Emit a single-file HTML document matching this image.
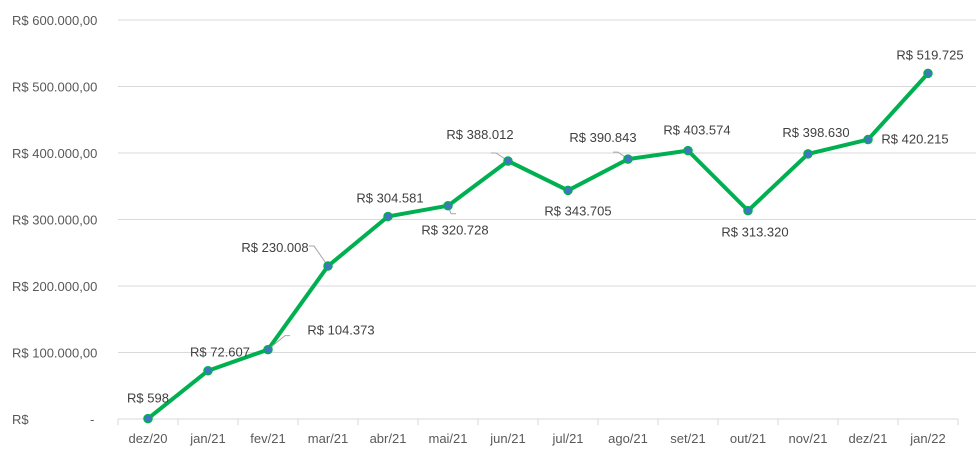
<!DOCTYPE html>
<html><head><meta charset="utf-8"><style>
body{margin:0;background:#fff;}
svg{display:block;font-family:"Liberation Sans",Arial,sans-serif;}
</style></head><body>
<svg id="chart" width="976" height="455" viewBox="0 0 976 455"></svg>
<script>
const categories=["dez/20","jan/21","fev/21","mar/21","abr/21","mai/21","jun/21","jul/21","ago/21","set/21","out/21","nov/21","dez/21","jan/22"];
const values=[598,72607,104373,230008,304581,320728,388012,343705,390843,403574,313320,398630,420215,519725];
const valueLabels=["R$ 598","R$ 72.607","R$ 104.373","R$ 230.008","R$ 304.581","R$ 320.728","R$ 388.012","R$ 343.705","R$ 390.843","R$ 403.574","R$ 313.320","R$ 398.630","R$ 420.215","R$ 519.725"];
const yTicks=[0,100000,200000,300000,400000,500000,600000];
const yTickLabels=["R$ -","R$ 100.000,00","R$ 200.000,00","R$ 300.000,00","R$ 400.000,00","R$ 500.000,00","R$ 600.000,00"];
// label placement offsets (dx,dy from point), styling only
const labelOffsets=[[0,-21],[12,-19],[73,-20],[-53,-19],[2,-19],[7,24],[-28,-27],[10,20],[-25,-22],[9,-21],[7,21],[8,-22],[47,-1],[2,-19]];
const leaders=[null,null,[17,-14],[-14,-20],null,[3,8],[-12,-8],null,[-10,-7],null,null,null,null,null];

const NS="http://www.w3.org/2000/svg";
const svg=document.getElementById('chart');
const x0=148,dx=60,yZero=419,yTop=20,yMax=600000;
const xs=i=>x0+i*dx;
const ys=v=>yZero-(v/yMax)*(yZero-yTop);
function mk(t,a,p){const e=document.createElementNS(NS,t);for(const k in a)e.setAttribute(k,a[k]);(p||svg).appendChild(e);return e;}

yTicks.forEach((t,i)=>{
  const y=ys(t);
  if(t>0){const g=mk('line',{x1:118,x2:976,y1:y,y2:y,stroke:'#d9d9d9','stroke-width':1});
  
  }
  const lbl=yTickLabels[i];
  if(t===0){
    const a=mk('text',{x:12,y:y+5,'font-size':13,fill:'#595959'});a.textContent='R$';
    
    
    const b=mk('text',{x:90,y:y+5,'font-size':13,fill:'#595959'});b.textContent='-';
    
    
  } else {
    const a=mk('text',{x:12,y:y+5,'font-size':13,fill:'#595959'});a.textContent=lbl;
    
    
  }
});
const ax=mk('line',{x1:118,x2:958,y1:yZero,y2:yZero,stroke:'#d9d9d9','stroke-width':1});


for(let i=0;i<=categories.length;i++){
  const tx=xs(i)-dx/2;
  const tk=mk('line',{x1:tx,x2:tx,y1:yZero,y2:yZero+6,stroke:'#d9d9d9'});
  
  
}
categories.forEach((c,i)=>{
  const t=mk('text',{x:xs(i),y:443,'font-size':13,fill:'#595959','text-anchor':'middle'});
  t.textContent=c;
  
  
});
const pts=values.map((v,i)=>xs(i)+','+ys(v)).join(' ');
const line=mk('polyline',{points:pts,fill:'none',stroke:'#00b050','stroke-width':4,'stroke-linejoin':'round'});


values.forEach((v,i)=>{
  const px=xs(i),py=ys(v);
  if(leaders[i]){
    const l=mk('polyline',{points:`${px},${py} ${px+leaders[i][0]},${py+leaders[i][1]} ${px+leaders[i][0]+(leaders[i][0]>0?5:-5)},${py+leaders[i][1]}`,fill:'none',stroke:'#a6a6a6','stroke-width':1});
    
    
  }
  const c=mk('circle',{cx:px,cy:py,r:4,fill:'#4472c4',stroke:'#00b050','stroke-width':1.5});
  
  
  const t=mk('text',{x:px+labelOffsets[i][0],y:py+labelOffsets[i][1]+5,'font-size':13,fill:'#404040','text-anchor':'middle'});
  t.textContent=valueLabels[i];
  
  
});
</script>
</body></html>
